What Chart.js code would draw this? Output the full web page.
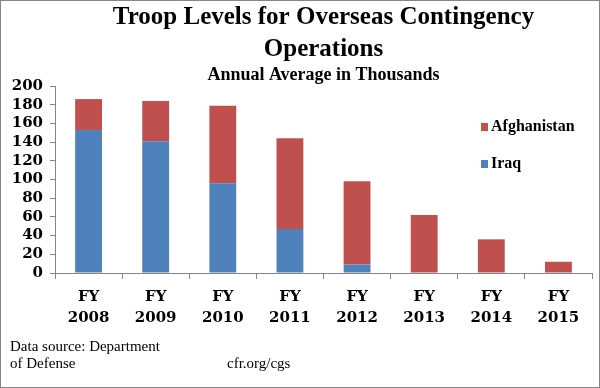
<!DOCTYPE html>
<html>
<head>
<meta charset="utf-8">
<script src="https://cdn.jsdelivr.net/npm/chart.js@4.4.1/dist/chart.umd.min.js"></script>
<style>
    html, body { margin: 0; padding: 0; background: #fff; }
    #wrap { width: 600px; height: 388px; }
</style>
</head>
<body>
<div id="wrap"><canvas id="troopChart" width="600" height="388"></canvas></div>
<script>
// Troop levels (thousands)
const fiscalYears = [['FY', '2008'], ['FY', '2009'], ['FY', '2010'], ['FY', '2011'],
                     ['FY', '2012'], ['FY', '2013'], ['FY', '2014'], ['FY', '2015']];
const iraqTroops = [153, 141, 96, 47, 9, 0, 0, 0];
const afghanTroops = [33, 43, 83, 97, 89, 62, 36, 12];
const yTicks = [0, 20, 40, 60, 80, 100, 120, 140, 160, 180, 200];

const titleLines = ['Troop Levels for Overseas Contingency', 'Operations'];
const subtitleText = 'Annual Average in Thousands';
const sourceLines = ['Data source: Department', 'of Defense'];
const siteText = 'cfr.org/cgs';

const RED = '#C0504D';
const BLUE = '#4F81BD';
const AXIS_GREY = '#868686';
const SERIF = '"Liberation Serif", "Times New Roman", serif';
const TICK_FONT = { family: '"DejaVu Serif", serif', size: 15, weight: 'bold' };

// Legend box in the plot + source notes + the outer frame
const notesPlugin = {
    id: 'notes',
    afterDraw(chart) {
        const ctx = chart.ctx;
        const area = chart.chartArea;
        ctx.save();

        // legend, Afghanistan on top like the original
        const legendItems = [
            { label: 'Afghanistan', color: RED },
            { label: 'Iraq', color: BLUE }
        ];
        ctx.font = 'bold 16px ' + SERIF;
        ctx.textBaseline = 'middle';
        legendItems.forEach((item, i) => {
            const x = area.right - 111;
            const y = area.top + 41 + i * 37;
            ctx.fillStyle = item.color;
            ctx.fillRect(x, y - 4, 7, 8);
            ctx.fillStyle = '#000';
            ctx.fillText(item.label, x + 10, y);
        });

        // data source footer
        ctx.font = '15px ' + SERIF;
        ctx.textBaseline = 'alphabetic';
        ctx.fillText(sourceLines[0], 10, 351);
        ctx.fillText(sourceLines[1], 10, 368);
        ctx.fillText(siteText, 227, 368);

        // grey frame round the picture
        ctx.strokeStyle = AXIS_GREY;
        ctx.lineWidth = 1;
        ctx.strokeRect(0.5, 0.5, chart.width - 1, chart.height - 1);
        ctx.restore();
    }
};

const ctx = document.getElementById('troopChart').getContext('2d');

new Chart(ctx, {
    type: 'bar',
    data: {
        labels: fiscalYears,
        datasets: [
            {
                label: 'Iraq',
                data: iraqTroops,
                backgroundColor: BLUE,
                barPercentage: 0.4,
                categoryPercentage: 1.0
            },
            {
                label: 'Afghanistan',
                data: afghanTroops,
                backgroundColor: RED,
                barPercentage: 0.4,
                categoryPercentage: 1.0
            }
        ]
    },
    options: {
        responsive: false,
        animation: false,
        layout: {
            padding: { left: 7, right: 8, top: 0, bottom: 51 }
        },
        scales: {
            x: {
                stacked: true,
                grid: {
                    display: true,
                    drawOnChartArea: false,
                    tickLength: 6,
                    color: AXIS_GREY
                },
                border: { color: AXIS_GREY },
                ticks: {
                    color: '#000',
                    font: { ...TICK_FONT, lineHeight: 1.4 },
                    padding: 8,
                    maxRotation: 0
                }
            },
            y: {
                stacked: true,
                min: 0,
                max: 200,
                afterBuildTicks(scale) {
                    scale.ticks = yTicks.map(v => ({ value: v }));
                },
                afterFit(scale) {
                    scale.width = 48;
                },
                grid: {
                    display: true,
                    drawOnChartArea: false,
                    tickLength: 5,
                    color: AXIS_GREY
                },
                border: { color: AXIS_GREY },
                ticks: {
                    color: '#000',
                    font: TICK_FONT,
                    padding: 7,
                    autoSkip: false
                }
            }
        },
        plugins: {
            legend: { display: false },
            tooltip: { enabled: false },
            title: {
                display: true,
                fullSize: false,
                text: titleLines,
                color: '#000',
                font: { family: SERIF, size: 25, weight: 'bold', lineHeight: 1.3 },
                padding: { top: 1, bottom: 0 }
            },
            subtitle: {
                display: true,
                fullSize: false,
                text: subtitleText,
                color: '#000',
                font: { family: SERIF, size: 18, weight: 'bold', lineHeight: 1.0 },
                padding: { top: 0, bottom: 2 }
            }
        }
    },
    plugins: [notesPlugin]
});
</script>
</body>
</html>
